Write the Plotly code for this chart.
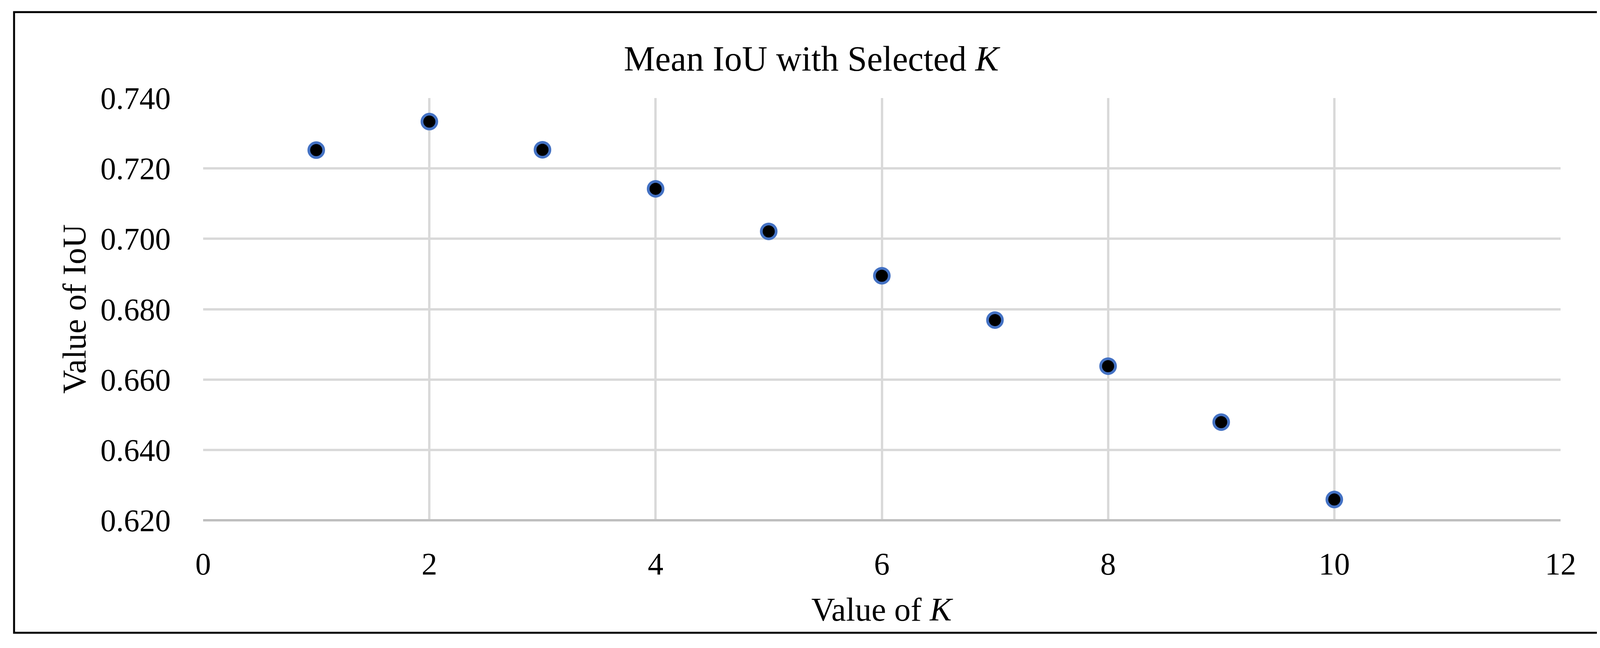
import plotly.graph_objects as go

# Data
k_values = [1, 2, 3, 4, 5, 6, 7, 8, 9, 10]
mean_iou = [0.7252, 0.7333, 0.7253, 0.7142, 0.7021, 0.6895, 0.6769, 0.6638, 0.6479, 0.6259]

x_ticks = [0, 2, 4, 6, 8, 10, 12]
y_ticks = [0.620, 0.640, 0.660, 0.680, 0.700, 0.720, 0.740]

title_text = "Mean IoU with Selected <i>K</i>"
x_title = "Value of <i>K</i>"
y_title = "Value of IoU"

# the page body adds an 8px margin, so work in reference pixels minus 8
OFF = 8
W, H = 4159 - 2 * OFF, 1659 - 2 * OFF
L, R, T, B = 520 - OFF, 3995 - OFF, 251 - OFF, 1332 - OFF  # plot area in pixels
pw, ph = R - L, B - T

def px2x(px):
    return (px - OFF - L) / pw

def py2y(py):
    return (B - (py - OFF)) / ph

FONT = "Liberation Serif, Times New Roman, serif"

fig = go.Figure()
fig.add_trace(go.Scatter(
    x=k_values, y=mean_iou, mode="markers",
    marker=dict(size=38, color="#000000", line=dict(color="#4472C4", width=7)),
    showlegend=False, cliponaxis=False,
))

fig.update_layout(
    width=W, height=H,
    margin=dict(l=L, r=W - R, t=T, b=H - B, pad=0),
    paper_bgcolor="white", plot_bgcolor="white",
    font=dict(family=FONT, size=80, color="black"),
    showlegend=False,
)

fig.update_xaxes(
    range=[0, 12], tickvals=x_ticks, ticktext=[str(v) for v in x_ticks],
    showgrid=True, gridcolor="#D9D9D9", gridwidth=6,
    zeroline=False, showline=False, ticks="",
    ticklabelstandoff=58, tickfont=dict(size=80, family=FONT),
)
fig.update_yaxes(
    range=[0.620, 0.740], tickvals=y_ticks, ticktext=[f"{v:.3f}" for v in y_ticks],
    showgrid=True, gridcolor="#D9D9D9", gridwidth=6,
    zeroline=False, showline=False, ticks="",
    ticklabelstandoff=82, tickfont=dict(size=80, family=FONT),
)

shapes = [
    # bottom axis line
    dict(type="line", xref="paper", yref="paper", x0=0, x1=1, y0=0, y1=0,
         line=dict(color="#BFBFBF", width=6), layer="above"),
    # outer chart border
    dict(type="rect", xref="paper", yref="paper",
         x0=px2x(36), x1=px2x(4121), y0=py2y(1620), y1=py2y(31),
         line=dict(color="black", width=5), fillcolor="rgba(0,0,0,0)", layer="below"),
]
fig.update_layout(shapes=shapes)

annotations = [
    dict(text=title_text, xref="paper", yref="paper", x=px2x(2079), y=py2y(151),
         xanchor="center", yanchor="middle", showarrow=False,
         font=dict(size=90, family=FONT, color="black")),
    dict(text=x_title, xref="paper", yref="paper", x=px2x(2258), y=py2y(1560),
         xanchor="center", yanchor="middle", showarrow=False,
         font=dict(size=84, family=FONT, color="black")),
    dict(text=y_title, xref="paper", yref="paper", x=px2x(190), y=py2y(791),
         xanchor="center", yanchor="middle", showarrow=False, textangle=-90,
         font=dict(size=84, family=FONT, color="black")),
]
fig.update_layout(annotations=annotations)

fig.write_html("out.html")
